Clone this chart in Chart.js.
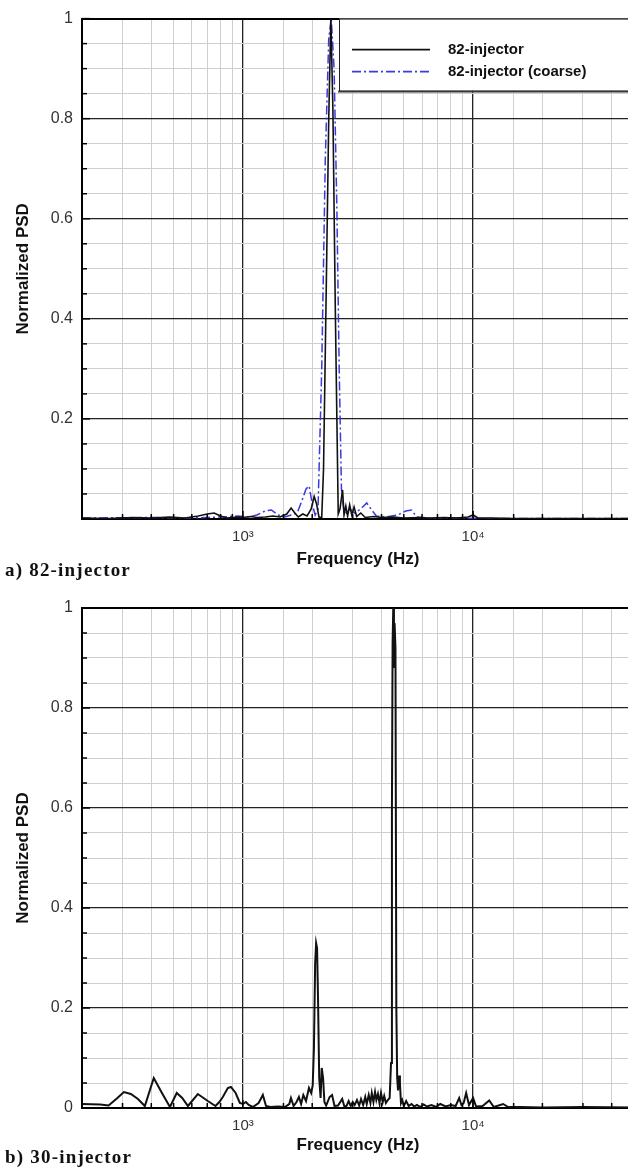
<!DOCTYPE html>
<html>
<head>
<meta charset="utf-8">
<script src="https://cdn.jsdelivr.net/npm/chart.js@4.4.1/dist/chart.umd.min.js"></script>
<style>
  html, body { margin: 0; padding: 0; background: #fff; overflow: hidden; width: 628px; height: 1168px; }
  .wrap { position: absolute; left: 0; }
  canvas { display: block; }
  .panel-label {
    position: absolute; left: 5px;
    font-family: "Liberation Serif", "Times New Roman", serif;
    font-weight: bold; font-size: 19px; color: #111; letter-spacing: 1.2px;
  }
</style>
</head>
<body>
<div class="wrap" style="top:0"><canvas id="chart-a" width="643" height="585"></canvas></div>
<div class="wrap" style="top:585px"><canvas id="chart-b" width="643" height="583"></canvas></div>
<div class="panel-label" style="top:559px">a) 82-injector</div>
<div class="panel-label" style="top:1146px">b) 30-injector</div>
<script>
// a) 82-injector, fine grid (solid black)
const fineFreq = [200, 260, 330, 400, 480, 560, 640, 700, 750, 800, 850, 900, 950, 1000, 1080, 1150, 1250, 1350, 1450, 1550, 1620, 1680, 1740, 1820, 1900, 1980, 2040, 2090, 2140, 2200, 2240, 2300, 2360, 2410, 2460, 2520, 2560, 2595, 2640, 2710, 2750, 2800, 2850, 2910, 2970, 3040, 3120, 3250, 3400, 3700, 4000, 4500, 5000, 5800, 6500, 7500, 8500, 9500, 10000, 10500, 12000, 15000, 20000, 30000, 50000];
const finePsd  = [0.002, 0.001, 0.003, 0.002, 0.004, 0.002, 0.006, 0.010, 0.012, 0.006, 0.002, 0.003, 0.004, 0.003, 0.005, 0.003, 0.004, 0.006, 0.004, 0.010, 0.022, 0.012, 0.004, 0.010, 0.006, 0.020, 0.045, 0.030, 0.004, 0.003, 0.10, 0.45, 0.80, 1.0, 0.82, 0.42, 0.20, 0.01, 0.02, 0.058, 0.008, 0.026, 0.006, 0.028, 0.008, 0.024, 0.005, 0.012, 0.003, 0.005, 0.003, 0.004, 0.002, 0.003, 0.002, 0.003, 0.002, 0.004, 0.008, 0.002, 0.002, 0.001, 0.001, 0.001, 0.001];

// a) 82-injector, coarse grid (blue dash-dot)
const coarseFreq = [200, 400, 600, 800, 950, 1050, 1150, 1250, 1330, 1420, 1520, 1620, 1720, 1800, 1880, 1940, 2000, 2060, 2120, 2200, 2280, 2360, 2420, 2490, 2560, 2620, 2680, 2740, 2820, 2920, 3050, 3250, 3450, 3600, 3800, 4200, 4700, 5100, 5400, 5700, 6500, 8000, 12000, 50000];
const coarsePsd  = [0.002, 0.003, 0.002, 0.004, 0.006, 0.004, 0.008, 0.016, 0.018, 0.008, 0.004, 0.008, 0.012, 0.035, 0.060, 0.066, 0.030, 0.008, 0.020, 0.30, 0.72, 0.96, 1.0, 0.90, 0.62, 0.30, 0.06, 0.020, 0.012, 0.020, 0.012, 0.020, 0.032, 0.020, 0.006, 0.004, 0.008, 0.016, 0.018, 0.004, 0.002, 0.002, 0.001, 0.001];

// b) 30-injector (solid black)
const inj30Freq = [200, 240, 261, 285, 304, 326, 350, 375, 410, 445, 482, 516, 545, 577, 637, 704, 760, 790, 818, 860, 887, 930, 970, 1000, 1030, 1060, 1105, 1170, 1221, 1260, 1320, 1420, 1520, 1590, 1617, 1660, 1710, 1751, 1790, 1830, 1880, 1936, 1980, 2010, 2035, 2060, 2080, 2100, 2120, 2145, 2175, 2200, 2230, 2260, 2300, 2380, 2440, 2500, 2590, 2700, 2760, 2820, 2880, 2940, 3000, 3060, 3130, 3200, 3260, 3330, 3400, 3450, 3520, 3580, 3630, 3690, 3750, 3800, 3860, 3920, 3980, 4050, 4110, 4180, 4260, 4340, 4400, 4440, 4470, 4500, 4530, 4560, 4600, 4640, 4680, 4720, 4770, 4810, 4860, 4920, 5000, 5120, 5250, 5400, 5550, 5700, 5900, 6100, 6300, 6600, 6900, 7200, 7600, 8000, 8400, 8700, 8900, 9100, 9330, 9600, 10000, 10300, 11000, 11750, 12300, 13500, 14200, 16000, 20000, 30000, 50000];
const inj30Psd  = [0.008, 0.007, 0.005, 0.020, 0.032, 0.028, 0.018, 0.004, 0.060, 0.030, 0.002, 0.030, 0.020, 0.004, 0.028, 0.014, 0.004, 0.012, 0.022, 0.040, 0.042, 0.030, 0.010, 0.008, 0.012, 0.006, 0.002, 0.010, 0.026, 0.004, 0.002, 0.003, 0.002, 0.008, 0.020, 0.004, 0.012, 0.022, 0.008, 0.026, 0.014, 0.040, 0.030, 0.045, 0.12, 0.29, 0.33, 0.32, 0.22, 0.06, 0.02, 0.08, 0.06, 0.012, 0.005, 0.022, 0.026, 0.004, 0.005, 0.018, 0.003, 0.004, 0.014, 0.004, 0.012, 0.006, 0.016, 0.005, 0.018, 0.006, 0.022, 0.008, 0.026, 0.010, 0.030, 0.012, 0.032, 0.016, 0.028, 0.010, 0.030, 0.012, 0.024, 0.010, 0.016, 0.020, 0.09, 0.60, 0.93, 1.0, 0.88, 0.97, 0.92, 0.20, 0.06, 0.035, 0.065, 0.050, 0.010, 0.016, 0.004, 0.014, 0.004, 0.008, 0.003, 0.006, 0.002, 0.007, 0.003, 0.006, 0.002, 0.008, 0.003, 0.006, 0.004, 0.020, 0.006, 0.010, 0.030, 0.006, 0.020, 0.003, 0.004, 0.015, 0.002, 0.008, 0.002, 0.002, 0.001, 0.002, 0.001];

// tick labels
const xLabelValues = [1000, 10000];
const xLabelTexts = ['10³', '10⁴'];
const yLabelValuesA = [0.2, 0.4, 0.6, 0.8, 1];
const yLabelValuesB = [0, 0.2, 0.4, 0.6, 0.8, 1];

const toPoints = (xs, ys) => xs.map((x, i) => ({ x: x, y: ys[i] }));
const near = (a, b) => Math.abs(a - b) < 1e-6;
const isDecade = v => { const e = Math.log10(v); return Math.abs(e - Math.round(e)) < 1e-6; };
const isMajorY = v => near(v / 0.2, Math.round(v / 0.2));

// short inward tick marks on left and bottom edges
const innerTicks = {
  id: 'innerTicks',
  afterDatasetsDraw(chart) {
    const { ctx, chartArea, scales } = chart;
    ctx.save();
    ctx.strokeStyle = '#000';
    ctx.lineWidth = 1.5;
    scales.y.ticks.forEach(t => {
      const y = scales.y.getPixelForValue(t.value);
      const len = isMajorY(t.value) ? 8 : 5;
      ctx.beginPath(); ctx.moveTo(chartArea.left, y); ctx.lineTo(chartArea.left + len, y); ctx.stroke();
    });
    scales.x.ticks.forEach(t => {
      const x = scales.x.getPixelForValue(t.value);
      const len = isDecade(t.value) ? 8 : 5;
      ctx.beginPath(); ctx.moveTo(x, chartArea.bottom); ctx.lineTo(x, chartArea.bottom - len); ctx.stroke();
    });
    ctx.restore();
  }
};

// boxed legend in the top-right corner
const boxLegend = {
  id: 'boxLegend',
  afterDraw(chart, args, opts) {
    if (!opts.show) return;
    const { ctx, chartArea } = chart;
    const x0 = 339, y0 = chartArea.top, w = 320, h = 72;
    ctx.save();
    ctx.fillStyle = '#fff';
    ctx.fillRect(x0, y0, w, h);
    ctx.fillStyle = '#555';
    ctx.fillRect(x0 - 1, y0 + h, w, 2);
    ctx.strokeStyle = '#222';
    ctx.lineWidth = 1;
    ctx.strokeRect(x0 + 0.5, y0 + 0.5, w, h);
    chart.data.datasets.forEach((ds, i) => {
      const y = y0 + 31 + i * 22;
      ctx.strokeStyle = ds.borderColor;
      ctx.lineWidth = 1.6;
      ctx.setLineDash(ds.borderDash || []);
      ctx.beginPath(); ctx.moveTo(352, y); ctx.lineTo(430, y); ctx.stroke();
      ctx.setLineDash([]);
      ctx.fillStyle = '#111';
      ctx.font = 'bold 15px "Liberation Sans", Arial, sans-serif';
      ctx.textBaseline = 'middle';
      ctx.fillText(ds.label, 448, y);
    });
    ctx.restore();
  }
};

function makeOptions(yLabels, padTop, xHeight, titleBottom, legendOn) {
  return {
    responsive: false,
    animation: false,
    devicePixelRatio: 1,
    layout: { padding: { top: padTop, right: 1, left: 0, bottom: 0 } },
    plugins: {
      legend: { display: false },
      tooltip: { enabled: false },
      boxLegend: { show: legendOn }
    },
    elements: { point: { radius: 0 }, line: { tension: 0 } },
    scales: {
      x: {
        type: 'logarithmic',
        min: 200,
        max: 50000,
        afterFit: s => { s.height = xHeight; },
        border: { display: true, color: '#000', width: 2 },
        grid: {
          drawTicks: false,
          color: c => isDecade(c.tick.value) ? '#222' : '#cfcfcf',
          lineWidth: c => isDecade(c.tick.value) ? 1.3 : 1
        },
        ticks: {
          autoSkip: false,
          maxRotation: 0,
          padding: 9,
          color: '#333',
          font: { family: '"Liberation Sans", Arial, sans-serif', size: 15 },
          callback: v => {
            const i = xLabelValues.findIndex(l => near(l, v));
            return i >= 0 ? xLabelTexts[i] : '';
          }
        },
        title: {
          display: true,
          text: 'Frequency (Hz)',
          color: '#111',
          padding: { top: 3, bottom: titleBottom },
          font: { family: '"Liberation Sans", Arial, sans-serif', size: 17, weight: 'bold' }
        }
      },
      y: {
        min: 0,
        max: 1,
        afterFit: s => { s.width = 82; },
        border: { display: true, color: '#000', width: 2 },
        grid: {
          drawTicks: false,
          color: c => isMajorY(c.tick.value) ? (near(c.tick.value, 1) ? '#000' : '#222') : '#cfcfcf',
          lineWidth: c => near(c.tick.value, 1) ? 2 : (isMajorY(c.tick.value) ? 1.3 : 1)
        },
        ticks: {
          stepSize: 0.05,
          autoSkip: false,
          padding: 9,
          color: '#333',
          font: { family: '"Liberation Sans", Arial, sans-serif', size: 16 },
          callback: v => {
            const hit = yLabels.find(l => near(l, v));
            return hit === undefined ? '' : String(hit);
          }
        },
        title: {
          display: true,
          text: 'Normalized PSD',
          color: '#111',
          padding: { top: 13, bottom: 0 },
          font: { family: '"Liberation Sans", Arial, sans-serif', size: 17, weight: 'bold' }
        }
      }
    }
  };
}

function renderCharts() {
  new Chart(document.getElementById('chart-a'), {
    type: 'line',
    data: {
      datasets: [{
        label: '82-injector',
        data: toPoints(fineFreq, finePsd),
        borderColor: '#111',
        borderWidth: 1.6
      }, {
        label: '82-injector (coarse)',
        data: toPoints(coarseFreq, coarsePsd),
        borderColor: '#3a3ae0',
        borderWidth: 1.5,
        borderDash: [9, 3, 2, 3]
      }]
    },
    options: makeOptions(yLabelValuesA, 17, 66, 15, true),
    plugins: [innerTicks, boxLegend]
  });

  new Chart(document.getElementById('chart-b'), {
    type: 'line',
    data: {
      datasets: [{
        label: '30-injector',
        data: toPoints(inj30Freq, inj30Psd),
        borderColor: '#111',
        borderWidth: 2
      }]
    },
    options: makeOptions(yLabelValuesB, 23, 60, 12, false),
    plugins: [innerTicks, boxLegend]
  });
}

renderCharts();
</script>
</body>
</html>
